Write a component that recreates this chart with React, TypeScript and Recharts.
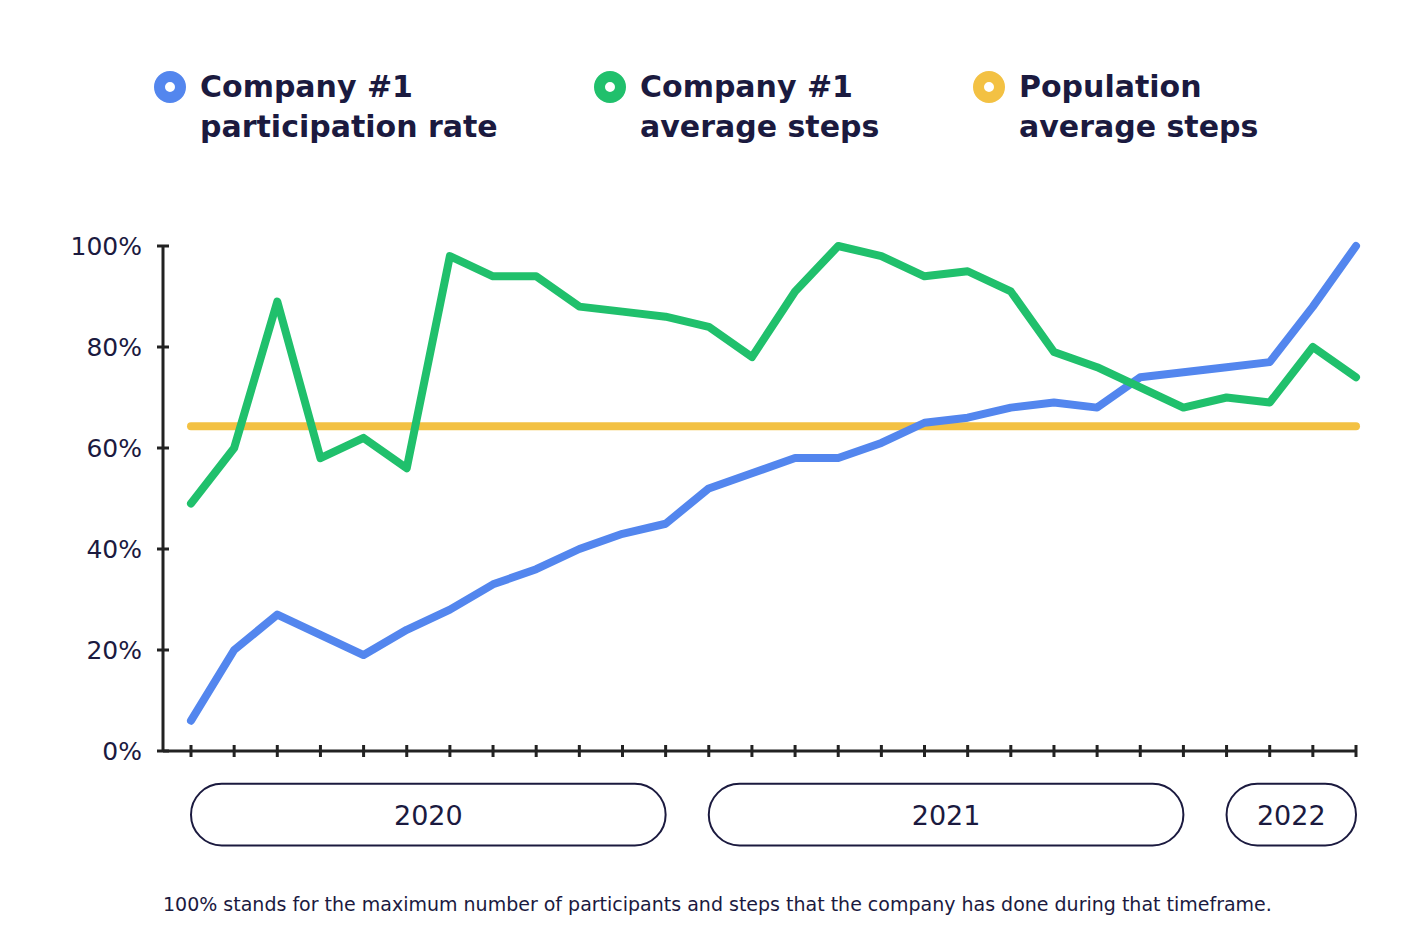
import React from "react";
import { LineChart, Line, XAxis, YAxis, ReferenceArea } from "recharts";

const months = [
  "Jan 20", "Feb 20", "Mar 20", "Apr 20", "May 20", "Jun 20", "Jul 20", "Aug 20", "Sep 20", "Oct 20", "Nov 20", "Dec 20",
  "Jan 21", "Feb 21", "Mar 21", "Apr 21", "May 21", "Jun 21", "Jul 21", "Aug 21", "Sep 21", "Oct 21", "Nov 21", "Dec 21",
  "Jan 22", "Feb 22", "Mar 22", "Apr 22",
];
const participation = [6, 20, 27, 23, 19, 24, 28, 33, 36, 40, 43, 45, 52, 55, 58, 58, 61, 65, 66, 68, 69, 68, 74, 75, 76, 77, 88, 100];
const companySteps = [49, 60, 89, 58, 62, 56, 98, 94, 94, 88, 87, 86, 84, 78, 91, 100, 98, 94, 95, 91, 79, 76, 72, 68, 70, 69, 80, 74];
const populationSteps = 64.3;
const yTicks = [0, 20, 40, 60, 80, 100];
const years = [
  { label: "2020", from: "Jan 20", to: "Dec 20" },
  { label: "2021", from: "Jan 21", to: "Dec 21" },
  { label: "2022", from: "Jan 22", to: "Apr 22" },
];

const BLUE = "#5386EE";
const GREEN = "#20C06C";
const YELLOW = "#F3C143";
const NAVY = "#1B1A3F";
const AXIS = "#222222";
const FONT = "'DejaVu Sans', sans-serif";

const data = months.map((m, i) => ({
  m,
  part: participation[i],
  steps: companySteps[i],
  pop: populationSteps,
}));

const legendItems = [
  { color: BLUE, lines: ["Company #1", "participation rate"], x: 154 },
  { color: GREEN, lines: ["Company #1", "average steps"], x: 594 },
  { color: YELLOW, lines: ["Population", "average steps"], x: 973 },
];

function YTick(props: any) {
  const { x, y, payload } = props;
  return (
    <g>
      <line x1={x - 6} x2={x + 6} y1={y} y2={y} stroke={AXIS} strokeWidth={3} />
      <text x={x - 21} y={y} dy={9} textAnchor="end" fill={NAVY} fontSize={25} fontFamily={FONT}>
        {payload.value}%
      </text>
    </g>
  );
}

function XTick(props: any) {
  const { x, y } = props;
  return <line x1={x} x2={x} y1={y - 6} y2={y + 6} stroke={AXIS} strokeWidth={3} />;
}

function Pill(label: string) {
  return (props: any) => {
    const { x, y, width, height } = props;
    return (
      <g>
        <rect x={x} y={y} width={width} height={height} rx={height / 2} ry={height / 2} fill="#fff" stroke={NAVY} strokeWidth={2} />
        <text x={x + width / 2} y={y + height / 2} dy={10} textAnchor="middle" fill={NAVY} fontSize={27} fontFamily={FONT}>
          {label}
        </text>
      </g>
    );
  };
}

export default function App() {
  return (
    <div style={{ position: "absolute", left: 0, top: 0, width: 1414, height: 942, background: "#fff", fontFamily: FONT }}>
      {legendItems.map((it) => (
        <div key={it.lines[1] + it.x} style={{ position: "absolute", left: it.x, top: 71 }}>
          <div
            style={{
              position: "absolute",
              left: 0,
              top: 0,
              width: 10,
              height: 10,
              borderRadius: "50%",
              border: `11px solid ${it.color}`,
              background: "#fff",
            }}
          />
          <div style={{ position: "absolute", left: 46, top: -4, color: NAVY, fontWeight: 700, fontSize: 30, lineHeight: "40px", whiteSpace: "nowrap" }}>
            {it.lines[0]}
            <br />
            {it.lines[1]}
          </div>
        </div>
      ))}
      <div style={{ position: "absolute", left: 0, top: 0 }}>
        <LineChart width={1414} height={942} data={data} margin={{ top: 246, right: 58, bottom: 190, left: 0 }}>
          <XAxis
            dataKey="m"
            padding={{ left: 28, right: 0 }}
            axisLine={{ stroke: AXIS, strokeWidth: 3 }}
            tickLine={false}
            tickSize={0}
            tickMargin={0}
            interval={0}
            tick={<XTick />}
            height={1}
          />
          <YAxis
            domain={[0, 100]}
            ticks={yTicks}
            width={163}
            axisLine={{ stroke: AXIS, strokeWidth: 3 }}
            tickLine={false}
            tickSize={0}
            tickMargin={0}
            tick={<YTick />}
          />
          {years.map((yr) => (
            <ReferenceArea
              key={yr.label}
              x1={yr.from}
              x2={yr.to}
              y1={-6.5}
              y2={-18.7}
              ifOverflow="visible"
              shape={Pill(yr.label)}
            />
          ))}
          <Line dataKey="pop" stroke={YELLOW} strokeWidth={8} dot={false} isAnimationActive={false} strokeLinecap="round" />
          <Line dataKey="part" stroke={BLUE} strokeWidth={8} dot={false} isAnimationActive={false} strokeLinecap="round" strokeLinejoin="round" />
          <Line dataKey="steps" stroke={GREEN} strokeWidth={8} dot={false} isAnimationActive={false} strokeLinecap="round" strokeLinejoin="round" />
        </LineChart>
      </div>
      <div style={{ position: "absolute", left: 163, top: 893, color: NAVY, fontSize: 19, whiteSpace: "nowrap" }}>
        100% stands for the maximum number of participants and steps that the company has done during that timeframe.
      </div>
    </div>
  );
}
